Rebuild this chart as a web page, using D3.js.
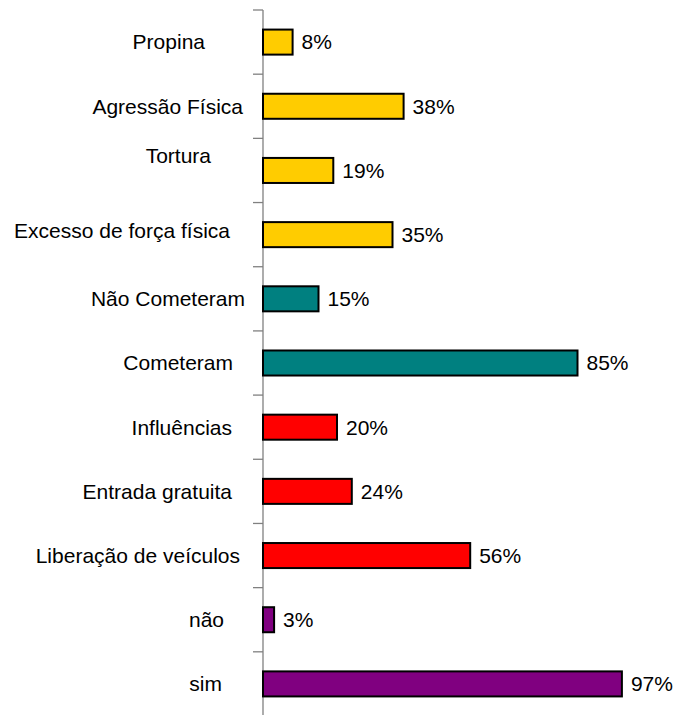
<!DOCTYPE html>
<html>
<head>
<meta charset="utf-8">
<script src="https://cdn.jsdelivr.net/npm/d3@7"></script>
<style>
  body { margin: 0; background: #fff; }
  text { font-family: "Liberation Sans", Arial, sans-serif; font-size: 21px; fill: #000; }
</style>
</head>
<body>
<div id="chart"></div>
<script>
var categories = ["Propina", "Agressão Física", "Tortura", "Excesso de força física",
  "Não Cometeram", "Cometeram", "Influências", "Entrada gratuita",
  "Liberação de veículos", "não", "sim"];
var values = [8, 38, 19, 35, 15, 85, 20, 24, 56, 3, 97];
var groups = ["abuso", "abuso", "abuso", "abuso", "cometeram", "cometeram",
  "tipo", "tipo", "tipo", "resp", "resp"];

var groupColors = { abuso: "#FFCC00", cometeram: "#008080", tipo: "#FF0000", resp: "#800080" };

// label placement as in the original (right end x, vertical nudge)
var labelEnd = { "Propina": 205, "Agressão Física": 243, "Tortura": 211, "Excesso de força física": 230,
  "Não Cometeram": 245, "Cometeram": 233, "Influências": 232, "Entrada gratuita": 232,
  "Liberação de veículos": 240, "não": 224, "sim": 222 };
var labelNudge = { "Tortura": -15, "Excesso de força física": -4 };

var width = 680, height = 715;
var margin = { top: 10, left: 263 };

var svg = d3.select("#chart").append("svg")
  .attr("width", width)
  .attr("height", height);

var x = d3.scaleLinear().domain([0, 100]).range([margin.left, 633]);
var y = d3.scaleBand().domain(categories).range([margin.top, 716]).paddingInner(0.61).paddingOuter(0.305);

var data = categories.map(function(c, i) { return { cat: c, value: values[i], group: groups[i] }; });

// axis line
svg.append("line")
  .attr("x1", x(0)).attr("x2", x(0))
  .attr("y1", margin.top).attr("y2", height)
  .attr("stroke", "#808080").attr("stroke-width", 1.3);

// tick marks at category boundaries
var step = y.step();
var bounds = d3.range(categories.length + 1).map(function(i) { return margin.top + i * step; });
svg.selectAll(".tick").data(bounds).enter().append("line")
  .attr("class", "tick")
  .attr("x1", x(0) - 10).attr("x2", x(0))
  .attr("y1", d => d).attr("y2", d => d)
  .attr("stroke", "#808080").attr("stroke-width", 1.3);

// bars
svg.selectAll(".bar").data(data).enter().append("rect")
  .attr("class", "bar")
  .attr("x", x(0))
  .attr("y", d => y(d.cat))
  .attr("width", d => x(d.value) - x(0))
  .attr("height", y.bandwidth())
  .attr("fill", d => groupColors[d.group])
  .attr("stroke", "#000")
  .attr("stroke-width", 2);

// value labels
svg.selectAll(".val").data(data).enter().append("text")
  .attr("class", "val")
  .attr("x", d => x(d.value) + 9)
  .attr("y", d => y(d.cat) + y.bandwidth() / 2)
  .attr("dy", "0.35em")
  .text(d => d.value + "%");

// category labels
svg.selectAll(".cat").data(data).enter().append("text")
  .attr("class", "cat")
  .attr("x", d => labelEnd[d.cat])
  .attr("y", d => y(d.cat) + y.bandwidth() / 2 + (labelNudge[d.cat] || 0))
  .attr("dy", "0.35em")
  .attr("text-anchor", "end")
  .text(d => d.cat);
</script>
</body>
</html>
